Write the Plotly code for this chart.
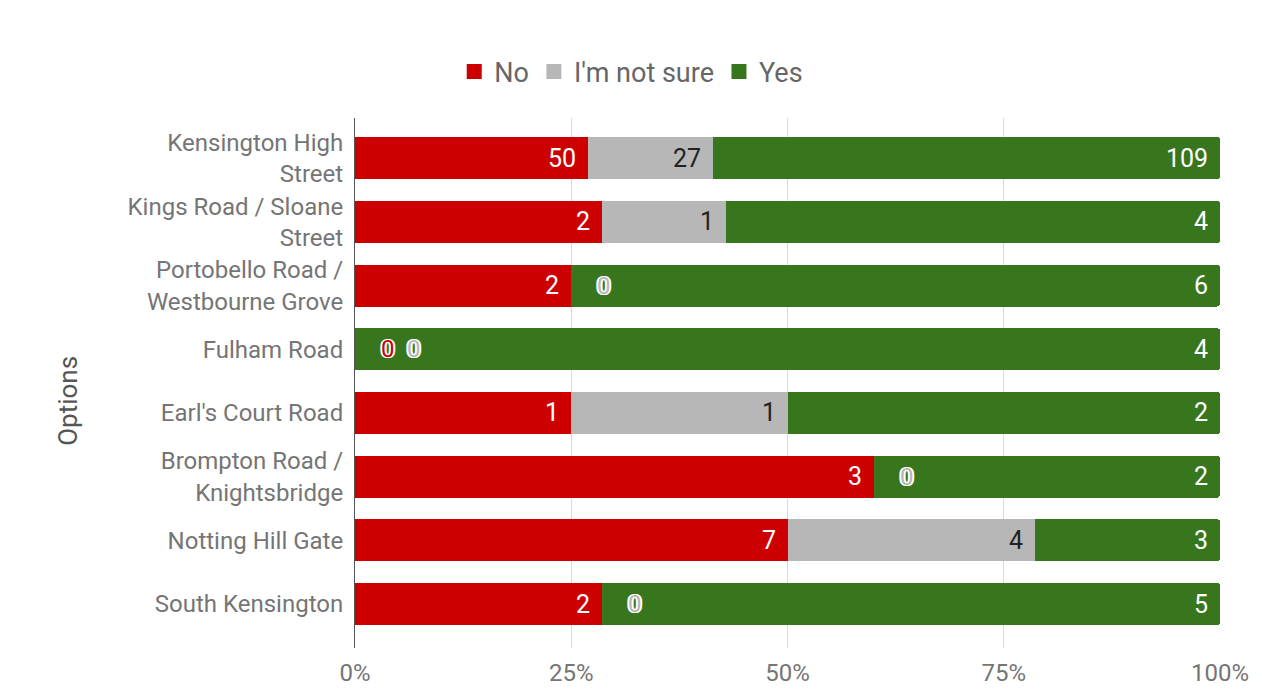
import plotly.graph_objects as go

categories = [
    "Kensington High<br>Street",
    "Kings Road / Sloane<br>Street",
    "Portobello Road /<br>Westbourne Grove",
    "Fulham Road",
    "Earl's Court Road",
    "Brompton Road /<br>Knightsbridge",
    "Notting Hill Gate",
    "South Kensington",
]
no_vals = [50, 2, 2, 0, 1, 3, 7, 2]
unsure_vals = [27, 1, 0, 0, 1, 0, 4, 0]
yes_vals = [109, 4, 6, 4, 2, 2, 3, 5]

series_names = ["No", "I'm not sure", "Yes"]
series_vals = [no_vals, unsure_vals, yes_vals]
series_colors = ["#CC0000", "#B7B7B7", "#38761D"]
label_colors = ["#FFFFFF", "#222222", "#FFFFFF"]
x_ticks = [0, 25, 50, 75, 100]
x_tick_labels = ["0%", "25%", "50%", "75%", "100%"]

FONT = "Roboto, Arial, sans-serif"

fig = go.Figure()
for name, vals, col in zip(series_names, series_vals, series_colors):
    fig.add_trace(go.Bar(
        name=name, y=categories, x=vals, orientation="h",
        marker=dict(color=col, line=dict(width=0)),
        hoverinfo="x+y+name", showlegend=False,
    ))
# legend entries with square swatches
for name, col in zip(series_names, series_colors):
    fig.add_trace(go.Scatter(
        x=[None], y=[None], mode="markers", name=name,
        marker=dict(symbol="square", size=15, color=col),
        showlegend=True,
    ))

annotations = []
for i, cat in enumerate(categories):
    total = sum(s[i] for s in series_vals)
    cum = 0.0
    zero_shift = 33
    for k, vals in enumerate(series_vals):
        v = vals[i]
        start = cum
        cum += v / total * 100.0
        if v > 0:
            annotations.append(dict(
                x=cum, y=cat, xref="x", yref="y", text=str(v), showarrow=False,
                xanchor="right", xshift=-10,
                font=dict(family=FONT, size=25, color=label_colors[k]),
            ))
        else:
            annotations.append(dict(
                x=start, y=cat, xref="x", yref="y", text=str(v), showarrow=False,
                xanchor="center", xshift=zero_shift,
                font=dict(family=FONT, size=24, color=series_colors[k],
                          shadow="1px 1px 0 #fff, -1px -1px 0 #fff, 1px -1px 0 #fff, -1px 1px 0 #fff, 2px 0 0 #fff, -2px 0 0 #fff"),
            ))
            zero_shift += 26

annotations.append(dict(
    x=-0.332, y=0.466, xref="paper", yref="paper", text="Options", textangle=-90,
    showarrow=False, xanchor="center", yanchor="middle",
    font=dict(family=FONT, size=26, color="#555555"),
))

fig.update_layout(
    barmode="stack",
    barnorm="percent",
    bargap=0.34,
    barcornerradius=3,
    width=1254, height=681,
    margin=dict(l=347, r=42, t=110, b=41, autoexpand=False),
    paper_bgcolor="white", plot_bgcolor="white",
    font=dict(family=FONT, color="#757575", size=24),
    legend=dict(orientation="h", x=0.497, xanchor="center", xref="container",
                y=0.906, yanchor="middle", yref="container",
                font=dict(size=27, color="#666666"),
                itemwidth=30, traceorder="normal"),
    annotations=annotations,
    showlegend=True,
)
fig.update_xaxes(
    range=[0, 100], tickvals=x_ticks, ticktext=x_tick_labels,
    showgrid=True, gridcolor="#D9D9D9", gridwidth=1,
    zeroline=False, showline=False, automargin=False,
    ticks="outside", ticklen=0, ticklabelstandoff=3,
    tickfont=dict(size=24, color="#757575"), fixedrange=True,
)
fig.update_yaxes(
    categoryorder="array", categoryarray=categories,
    range=[7.69, -0.63], automargin=False,
    showgrid=False, showline=True, linecolor="#555555", linewidth=1,
    ticks="outside", ticklen=0, ticklabelstandoff=6,
    tickfont=dict(size=24, color="#757575"),
)

fig.write_html("out.html")
